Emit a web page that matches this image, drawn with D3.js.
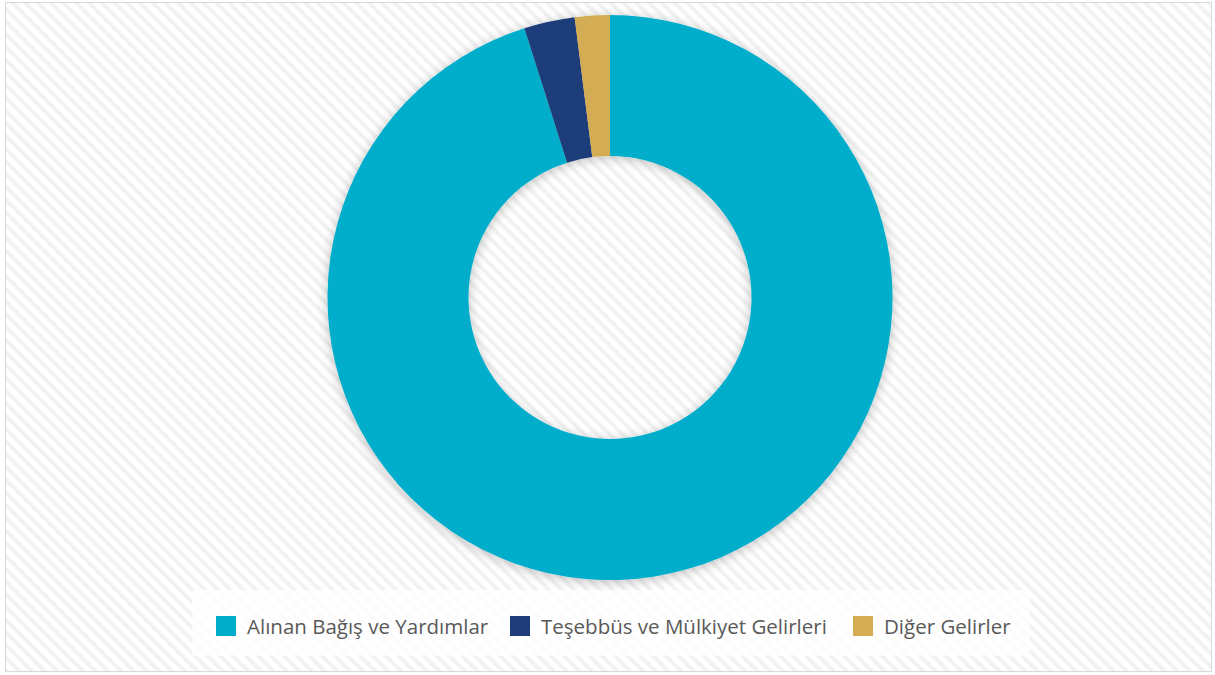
<!DOCTYPE html>
<html>
<head>
<meta charset="utf-8">
<script src="https://cdn.jsdelivr.net/npm/d3@7"></script>
<style>
  html, body { margin: 0; padding: 0; background: #ffffff; }
  svg { display: block; }
</style>
</head>
<body>
<svg id="chart" width="1215" height="675"></svg>
<script>
const categories = ["Alınan Bağış ve Yardımlar", "Teşebbüs ve Mülkiyet Gelirleri", "Diğer Gelirler"];
const values = [95.1, 2.9, 2.0];
const colors = ["#00ADCB", "#1F3D7A", "#D4AC52"];

const W = 1215, H = 675;
const svg = d3.select("#chart");
const defs = svg.append("defs");

// diagonal stripe background
const pat = defs.append("pattern")
  .attr("id", "stripes").attr("patternUnits", "userSpaceOnUse")
  .attr("width", 9).attr("height", 9)
  .attr("patternTransform", "rotate(45)");
pat.append("rect").attr("width", 9).attr("height", 9).attr("fill", "#ffffff");
pat.append("rect").attr("width", 9).attr("height", 4).attr("fill", "#f2f2f2");

const shadow = defs.append("filter").attr("id", "shadow")
  .attr("x", "-20%").attr("y", "-20%").attr("width", "140%").attr("height", "140%");
shadow.append("feGaussianBlur").attr("in", "SourceAlpha").attr("stdDeviation", 6).attr("result", "b");
shadow.append("feOffset").attr("in", "b").attr("dx", 0).attr("dy", 2).attr("result", "o");
shadow.append("feComponentTransfer").attr("in", "o").attr("result", "s")
  .append("feFuncA").attr("type", "linear").attr("slope", 0.25);
const merge = shadow.append("feMerge");
merge.append("feMergeNode").attr("in", "s");
merge.append("feMergeNode").attr("in", "SourceGraphic");

svg.append("rect").attr("x", 0).attr("y", 0).attr("width", W).attr("height", H).attr("fill", "#ffffff");
svg.append("rect").attr("x", 5.5).attr("y", 2.5).attr("width", 1206).attr("height", 669)
  .attr("fill", "url(#stripes)").attr("stroke", "#d9d9d9").attr("stroke-width", 1);

// donut
const cx = 610, cy = 297.5, R = 282.5, r = 141.5;
const pie = d3.pie().sort(null).value(d => d.v);
const arc = d3.arc().innerRadius(r).outerRadius(R);
const data = categories.map((c, i) => ({ c, v: values[i], col: colors[i] }));

const g = svg.append("g").attr("transform", `translate(${cx},${cy})`).attr("filter", "url(#shadow)");
g.selectAll("path").data(pie(data)).join("path")
  .attr("d", arc).attr("fill", d => d.data.col);

// legend
const lg = svg.append("g");
lg.append("rect").attr("x", 192).attr("y", 590).attr("width", 838).attr("height", 66)
  .attr("fill", "#ffffff").attr("fill-opacity", 0.75);

const legendX = [216, 510, 853];
data.forEach((d, i) => {
  lg.append("rect").attr("x", legendX[i]).attr("y", 616).attr("width", 20).attr("height", 20).attr("fill", d.col);
  lg.append("text").attr("x", legendX[i] + 31).attr("y", 634)
    .attr("font-family", "'Open Sans', sans-serif").attr("font-size", 20.5)
    .attr("fill", "#595959").text(d.c);
});
</script>
</body>
</html>
